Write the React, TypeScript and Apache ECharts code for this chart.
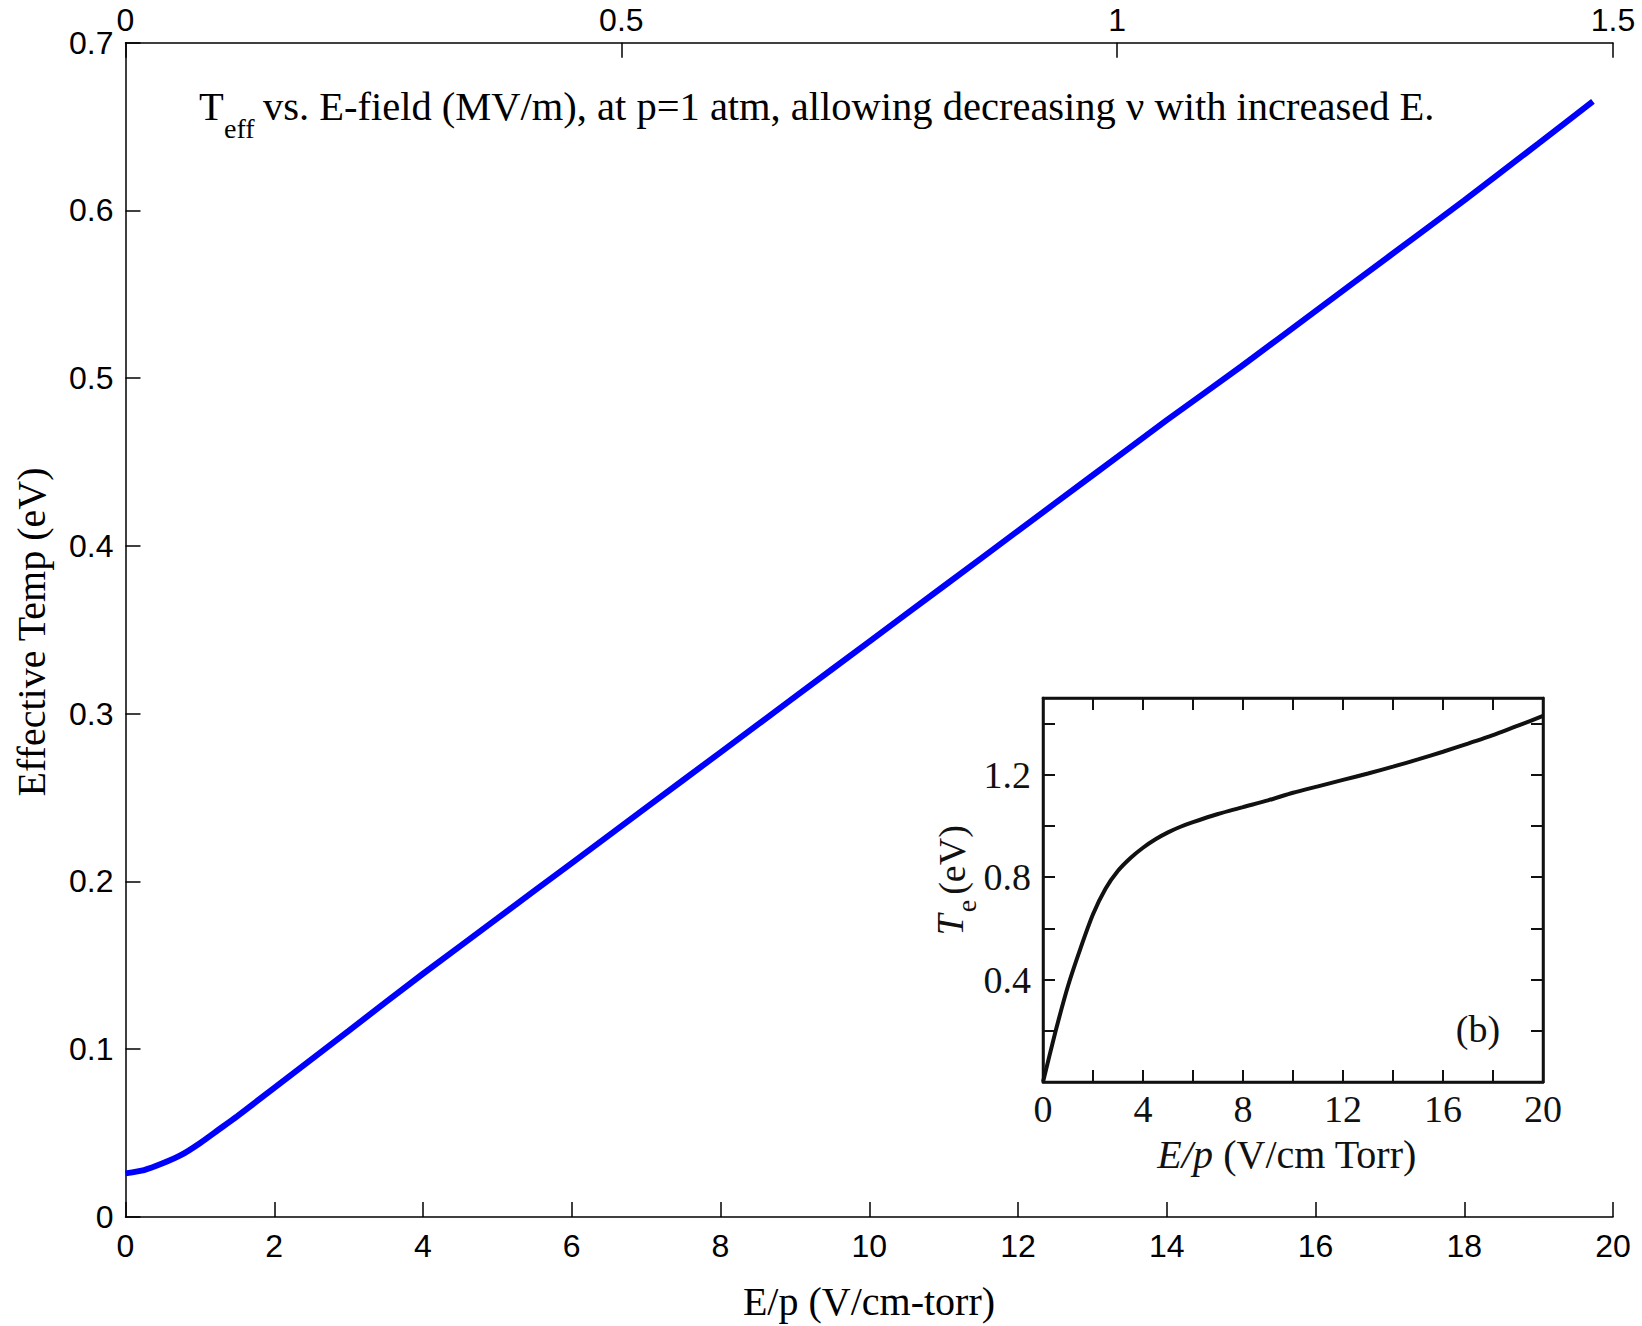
import React, { useEffect, useRef } from "react";
import * as echarts from "echarts";

// Main curve: effective electron temperature vs reduced field E/p (p = 1 atm)
const epValues = [0, 0.25, 0.5, 0.75, 1, 1.25, 1.5, 2, 3, 4, 5, 6, 7, 8, 9, 10, 11, 12, 13, 14, 15, 16, 17, 18, 19, 19.73];
const teffValues = [0.026, 0.028, 0.032, 0.037, 0.044, 0.052, 0.06, 0.077, 0.111, 0.145, 0.178, 0.211, 0.244, 0.277, 0.31, 0.343, 0.376, 0.409, 0.442, 0.475, 0.507, 0.54, 0.573, 0.606, 0.64, 0.665];

// Inset (b): Te vs E/p in V/cm Torr
const insetEp = [0, 0.5, 1, 1.5, 2, 2.5, 3, 3.5, 4, 4.5, 5, 5.5, 6, 7, 8, 9, 10, 11, 12, 13, 14, 15, 16, 17, 18, 19, 20];
const insetTe = [0, 0.197, 0.375, 0.522, 0.655, 0.755, 0.825, 0.875, 0.915, 0.948, 0.975, 0.997, 1.015, 1.047, 1.074, 1.1, 1.13, 1.155, 1.18, 1.205, 1.232, 1.26, 1.29, 1.322, 1.355, 1.392, 1.43];

// Axis ranges and labels
const mainXMax = 20;
const mainXStep = 2;
const topXMax = 1.5;
const topXStep = 0.5;
const mainYMax = 0.7;
const mainYStep = 0.1;
const insetXMax = 20;
const insetXTickStep = 2;
const insetXLabelStep = 4;
const insetYMax = 1.5;
const insetYTickStep = 0.2;
const insetYLabelStep = 0.4;

const xTitle = "E/p (V/cm-torr)";
const yTitle = "Effective Temp (eV)";
const noteMain = "vs. E-field (MV/m), at p=1 atm, allowing decreasing \u03bd with increased E.";

const SANS = "Liberation Sans, Arial, Helvetica, sans-serif";
const SERIF = "Liberation Serif, Times New Roman, serif";

export default function App() {
  const ref = useRef<HTMLDivElement>(null);

  useEffect(() => {
    if (!ref.current) return;
    const chart = echarts.init(ref.current, undefined, { renderer: "svg" });

    // onZero off so every axis stays on its own side of the box
    const axisLine = { show: true, onZero: false, lineStyle: { color: "#000", width: 1.5 } };
    const insetLine = { show: true, onZero: false, lineStyle: { color: "#111", width: 2.5 } };
    const noLine = { show: false, onZero: false };
    const tick = { show: true, inside: true, length: 15, lineStyle: { color: "#000", width: 1.5 } };
    const insetTick = { show: true, inside: true, length: 12, lineStyle: { color: "#111", width: 2 } };
    const noTick = { show: false };
    const sansLabel = { fontFamily: SANS, fontSize: 32, color: "#000" };
    const serifLabel = { fontFamily: SERIF, fontSize: 38, color: "#111" };
    const noSplit = { show: false };

    chart.setOption({
      animation: false,
      backgroundColor: "#fff",
      grid: [
        { left: 125.5, right: 29, top: 42.7, bottom: 109, containLabel: false },
        {
          left: 1043, right: 99, top: 698, bottom: 244, containLabel: false,
          show: true, backgroundColor: "#fff", borderColor: "#111", borderWidth: 2.5, z: 5,
        },
      ],
      xAxis: [
        {
          type: "value", gridIndex: 0, position: "bottom", min: 0, max: mainXMax, interval: mainXStep,
          axisLine, axisTick: tick, splitLine: noSplit,
          axisLabel: { ...sansLabel, margin: 13 },
        },
        {
          type: "value", gridIndex: 0, position: "top", min: 0, max: topXMax, interval: topXStep,
          axisLine, axisTick: tick, splitLine: noSplit,
          axisLabel: { ...sansLabel, margin: 7 },
        },
        // inset: tick marks every 2 on bottom and top
        {
          type: "value", gridIndex: 1, position: "bottom", min: 0, max: insetXMax, interval: insetXTickStep,
          axisLine: insetLine, axisTick: insetTick, splitLine: noSplit, axisLabel: { show: false }, z: 6,
        },
        {
          type: "value", gridIndex: 1, position: "top", min: 0, max: insetXMax, interval: insetXTickStep,
          axisLine: insetLine, axisTick: insetTick, splitLine: noSplit, axisLabel: { show: false }, z: 6,
        },
        // inset: labels every 4
        {
          type: "value", gridIndex: 1, position: "bottom", min: 0, max: insetXMax, interval: insetXLabelStep,
          axisLine: noLine, axisTick: noTick, splitLine: noSplit, z: 6,
          axisLabel: { ...serifLabel, margin: 8 },
        },
      ],
      yAxis: [
        {
          type: "value", gridIndex: 0, position: "left", min: 0, max: mainYMax, interval: mainYStep,
          axisLine, axisTick: tick, splitLine: noSplit,
          axisLabel: { ...sansLabel, margin: 12 },
        },
        {
          type: "value", gridIndex: 1, position: "left", min: 0, max: insetYMax, interval: insetYTickStep,
          axisLine: insetLine, axisTick: insetTick, splitLine: noSplit, axisLabel: { show: false }, z: 6,
        },
        {
          type: "value", gridIndex: 1, position: "right", min: 0, max: insetYMax, interval: insetYTickStep,
          axisLine: insetLine, axisTick: insetTick, splitLine: noSplit, axisLabel: { show: false }, z: 6,
        },
        {
          type: "value", gridIndex: 1, position: "left", min: 0, max: insetYMax, interval: insetYLabelStep,
          axisLine: noLine, axisTick: noTick, splitLine: noSplit, z: 6,
          axisLabel: {
            ...serifLabel, margin: 12,
            formatter: (v: number) => (v > 0.01 && v < 1.45 ? v.toFixed(1) : ""),
          },
        },
      ],
      series: [
        {
          type: "line", xAxisIndex: 0, yAxisIndex: 0,
          data: epValues.map((x, i) => [x, teffValues[i]]),
          showSymbol: false, smooth: 0.2,
          lineStyle: { color: "#0000ff", width: 6 },
        },
        {
          type: "line", xAxisIndex: 2, yAxisIndex: 1, z: 7,
          data: insetEp.map((x, i) => [x, insetTe[i]]),
          showSymbol: false, smooth: 0.2,
          lineStyle: { color: "#111", width: 4 },
        },
      ],
      graphic: [
        // axis titles of the main plot
        {
          type: "text", x: 869, y: 1301,
          style: { text: xTitle, font: `40px ${SERIF}`, fill: "#000", align: "center", verticalAlign: "middle" },
        },
        {
          type: "text", x: 31, y: 632, rotation: Math.PI / 2,
          style: { text: yTitle, font: `40px ${SERIF}`, fill: "#000", align: "center", verticalAlign: "middle" },
        },
        // annotation with subscript
        {
          type: "text", x: 199, y: 106.5,
          style: { text: "T", font: `40.5px ${SERIF}`, fill: "#000", align: "left", verticalAlign: "middle" },
        },
        {
          type: "text", x: 224, y: 128.5,
          style: { text: "eff", font: `28px ${SERIF}`, fill: "#000", align: "left", verticalAlign: "middle" },
        },
        {
          type: "text", x: 263, y: 106.5,
          style: { text: noteMain, font: `40.5px ${SERIF}`, fill: "#000", align: "left", verticalAlign: "middle" },
        },
        // inset titles
        {
          type: "text", x: 950, y: 925, rotation: Math.PI / 2, z: 10,
          style: { text: "T", font: `italic 38px ${SERIF}`, fill: "#111", align: "center", verticalAlign: "middle" },
        },
        {
          type: "text", x: 966, y: 906, rotation: Math.PI / 2, z: 10,
          style: { text: "e", font: `28px ${SERIF}`, fill: "#111", align: "center", verticalAlign: "middle" },
        },
        {
          type: "text", x: 952, y: 860, rotation: Math.PI / 2, z: 10,
          style: { text: "(eV)", font: `38px ${SERIF}`, fill: "#111", align: "center", verticalAlign: "middle" },
        },
        {
          type: "text", x: 1287, y: 1154, z: 10,
          style: {
            text: "{i|E/p} {n|(V/cm Torr)}",
            align: "center", verticalAlign: "middle",
            rich: {
              i: { fontFamily: SERIF, fontSize: 40, fontStyle: "italic", fill: "#111" },
              n: { fontFamily: SERIF, fontSize: 40, fill: "#111" },
            },
            font: `40px ${SERIF}`,
          },
        },
        {
          type: "text", x: 1478, y: 1029, z: 10,
          style: { text: "(b)", font: `38px ${SERIF}`, fill: "#111", align: "center", verticalAlign: "middle" },
        },
      ],
    });

    return () => chart.dispose();
  }, []);

  return (
    <div
      ref={ref}
      style={{ position: "fixed", left: 0, top: 0, width: 1642, height: 1326, background: "#fff" }}
    />
  );
}
